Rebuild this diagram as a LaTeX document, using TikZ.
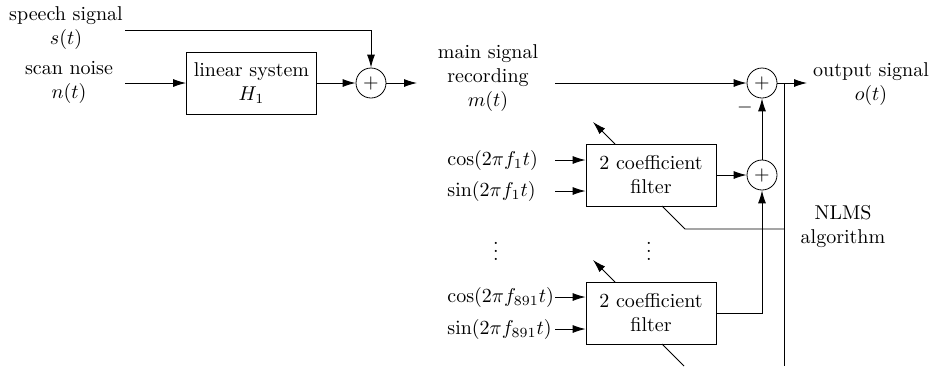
\documentclass[tikz,border=0pt]{standalone}
\usetikzlibrary{arrows.meta,calc}
\begin{document}
\begin{tikzpicture}[x=0.5pt,y=-0.5pt,
  every node/.style={inner sep=0pt},
  lbl/.style={align=center},
  blk/.style={draw,minimum width=65pt,minimum height=31pt,align=center},
  sumc/.style={draw,circle,minimum size=15pt},
  arr/.style={-{Latex[length=6.5pt,width=4pt]}},
  ln/.style={line width=0.45pt}]
\useasboundingbox (0,0) rectangle (933,366);
% labels
\node[lbl] (sp) at (66,28.5) {speech signal\\$s(t)$};
\node[lbl] (nz) at (69,82.5) {scan noise\\$n(t)$};
\node[lbl] (mn) at (488,78) {main signal\\recording\\$m(t)$};
\node[lbl] (out) at (871,84) {output signal\\$o(t)$};
\node[lbl] (nlms) at (843,226) {NLMS\\algorithm};
% blocks
\node[blk] (H1) at (251.5,83) {linear system\\$H_1$};
\node[sumc] (s1) at (371,83) {$+$};
\node[sumc] (s2) at (762,83) {$+$};
\node[sumc] (s3) at (762,175) {$+$};
\node[blk] (F1) at (651,175) {2 coefficient\\filter};
\node[blk] (F2) at (651,313) {2 coefficient\\filter};
\node (minus) at (745,107) {$-$};
% input labels
\node[anchor=west] (c1) at (447,160) {$\cos(2\pi f_1 t)$};
\node[anchor=west] (n1) at (447,191) {$\sin(2\pi f_1 t)$};
\node[anchor=west] (c2) at (447,297) {$\cos(2\pi f_{891} t)$};
\node[anchor=west] (n2) at (447,329) {$\sin(2\pi f_{891} t)$};
\node (d1) at (496,245) {$\vdots$};
\node (d2) at (649,245) {$\vdots$};
% coordinates
\coordinate (spE) at (125,30);
\coordinate (nzE) at (125,83);
\coordinate (mOut) at (417,83);
\coordinate (mIn) at (555,83);
\coordinate (oEnd) at (807,83);
\coordinate (jTop) at (784,83);
\coordinate (jBot) at (784,366);
\coordinate (c1E) at (555,160);
\coordinate (n1E) at (555,191);
\coordinate (c2E) at (555,297);
\coordinate (n2E) at (555,329);
\coordinate (a1s) at (615,144);
\coordinate (a1e) at (593,122);
\coordinate (a2s) at (615,282);
\coordinate (a2e) at (593,260);
\coordinate (b1s) at (662,206);
\coordinate (b1m) at (685,229);
\coordinate (b1e) at (784,229);
\coordinate (b2s) at (662,344);
\coordinate (b2e) at (684,366);
% connectors
\draw[ln,arr] (spE) -| (s1.north);
\draw[ln,arr] (nzE) -- (H1.west);
\draw[ln,arr] (H1.east) -- (s1.west);
\draw[ln,arr] (s1.east) -- (mOut);
\draw[ln,arr] (mIn) -- (s2.west);
\draw[ln,arr] (s2.east) -- (oEnd);
\draw[ln] (jTop) -- (jBot);
\draw[ln,arr] (c1E) -- (c1E -| F1.west);
\draw[ln,arr] (n1E) -- (n1E -| F1.west);
\draw[ln,arr] (c2E) -- (c2E -| F2.west);
\draw[ln,arr] (n2E) -- (n2E -| F2.west);
\draw[ln,arr] (F1.east) -- (s3.west);
\draw[ln,arr] (s3.north) -- (s2.south);
\draw[ln,arr] (F2.east) -| (s3.south);
\draw[ln,arr] (a1s) -- (a1e);
\draw[ln,arr] (a2s) -- (a2e);
\draw[ln] (b1s) -- (b1m) -- (b1e);
\draw[ln] (b2s) -- (b2e);
\end{tikzpicture}
\end{document}
